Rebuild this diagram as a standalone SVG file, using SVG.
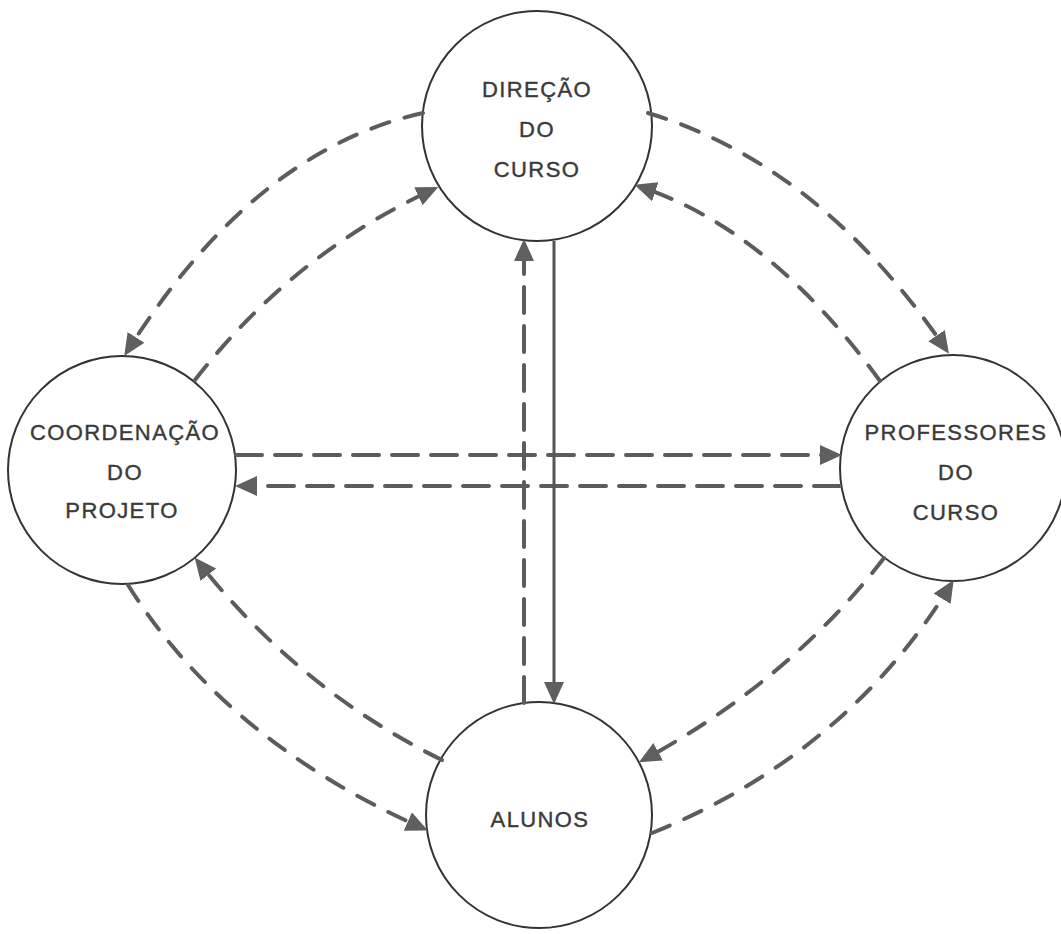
<svg xmlns="http://www.w3.org/2000/svg" width="1061" height="934" viewBox="0 0 1061 934">
<style>
.node circle{fill:#fff;stroke:#333;stroke-width:2}
.node text{font-family:"Liberation Sans",Arial,sans-serif;font-size:22px;letter-spacing:1.4px;fill:#3a3a3a;stroke:#3a3a3a;stroke-width:0.4;text-anchor:middle}
.dc{fill:none;stroke:#5c5c5c;stroke-width:4;stroke-linecap:round;stroke-dasharray:19 16}
.ds{fill:none;stroke:#5c5c5c;stroke-width:4;stroke-linecap:round;stroke-dasharray:26 13}
.sl{fill:none;stroke:#555;stroke-width:3}
</style>
<defs>
<marker id="ah" markerUnits="userSpaceOnUse" markerWidth="24" markerHeight="22" refX="15" refY="10" orient="auto">
<path d="M0,0 L22,10 L0,20 z" fill="#5f5f5f"/>
</marker>
</defs>
<rect width="1061" height="934" fill="#fff"/>
<g id="n-direcao" class="node">
<circle cx="537" cy="126" r="115"/>
<text x="537" y="97">DIREÇÃO</text>
<text x="537" y="137">DO</text>
<text x="537" y="177">CURSO</text>
</g>
<g id="n-coordenacao" class="node">
<circle cx="122" cy="470" r="114"/>
<text x="125" y="440">COORDENAÇÃO</text>
<text x="125" y="480">DO</text>
<text x="122" y="518">PROJETO</text>
</g>
<g id="n-professores" class="node">
<circle cx="953" cy="468" r="113"/>
<text x="956" y="440">PROFESSORES</text>
<text x="956" y="480">DO</text>
<text x="956" y="520">CURSO</text>
</g>
<g id="n-alunos" class="node">
<circle cx="539" cy="815" r="113"/>
<text x="540" y="827">ALUNOS</text>
</g>
<g id="connectors">
<path class="dc" d="M423,113 Q255,150 128,350" marker-end="url(#ah)"/>
<path class="dc" d="M195,380 Q293,254 432,190" marker-end="url(#ah)"/>
<path class="dc" d="M648,113 Q820,165 945,348" marker-end="url(#ah)"/>
<path class="dc" d="M880,381 Q770,230 641,187" marker-end="url(#ah)"/>
<path class="dc" d="M128,585 Q225,740 421.5,827.6" marker-end="url(#ah)"/>
<path class="dc" d="M442,760 Q300,690 199,563" marker-end="url(#ah)"/>
<path class="dc" d="M652,833 Q845,755 950,586" marker-end="url(#ah)"/>
<path class="dc" d="M884,558 Q790,680 645,759" marker-end="url(#ah)"/>
<path class="ds" d="M236,455 H835" marker-end="url(#ah)"/>
<path class="ds" d="M840,486 H242" marker-end="url(#ah)"/>
<path class="ds" d="M524,703 V246" marker-end="url(#ah)"/>
<path class="sl" d="M554,241 V697" marker-end="url(#ah)"/>
</g>
</svg>
